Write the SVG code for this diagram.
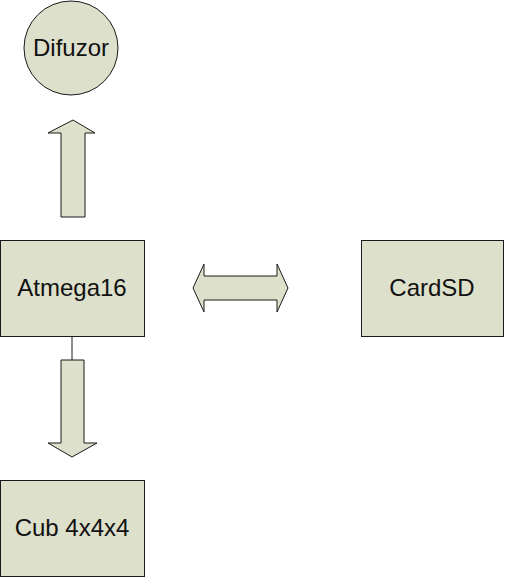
<svg xmlns="http://www.w3.org/2000/svg" width="505" height="577" viewBox="0 0 505 577">
<style>
.s{fill:#dde0cb;stroke:#1a1a1a;stroke-width:1}
.t{font-family:"Liberation Sans",Arial,sans-serif;font-size:24px;fill:#111;text-anchor:middle}
</style>
<rect width="505" height="577" fill="#fff"/>
<g id="connectors">
<line x1="72" y1="336" x2="72" y2="360" stroke="#1a1a1a" stroke-width="1"/>
<polygon class="s" points="61,217 61,133 48,133 73,120 95,133 85,133 85,217"/>
<polygon class="s" points="61,360 84,360 84,443 97,443 72,457 48,443 61,443"/>
<polygon class="s" points="193,288 204,264 204,276 277,276 277,264 288,288 277,312 277,300 204,300 204,312"/>
</g>
<g id="difuzor">
<circle class="s" cx="71" cy="48" r="47"/>
<text class="t" x="71" y="56">Difuzor</text>
</g>
<g id="atmega16">
<rect class="s" x="0.5" y="240.5" width="144" height="96"/>
<text class="t" x="72" y="296">Atmega16</text>
</g>
<g id="cardsd">
<rect class="s" x="361.5" y="240.5" width="142" height="96"/>
<text class="t" x="432" y="296">CardSD</text>
</g>
<g id="cub">
<rect class="s" x="0.5" y="480.5" width="144" height="96"/>
<text class="t" x="72" y="536">Cub 4x4x4</text>
</g>
</svg>
